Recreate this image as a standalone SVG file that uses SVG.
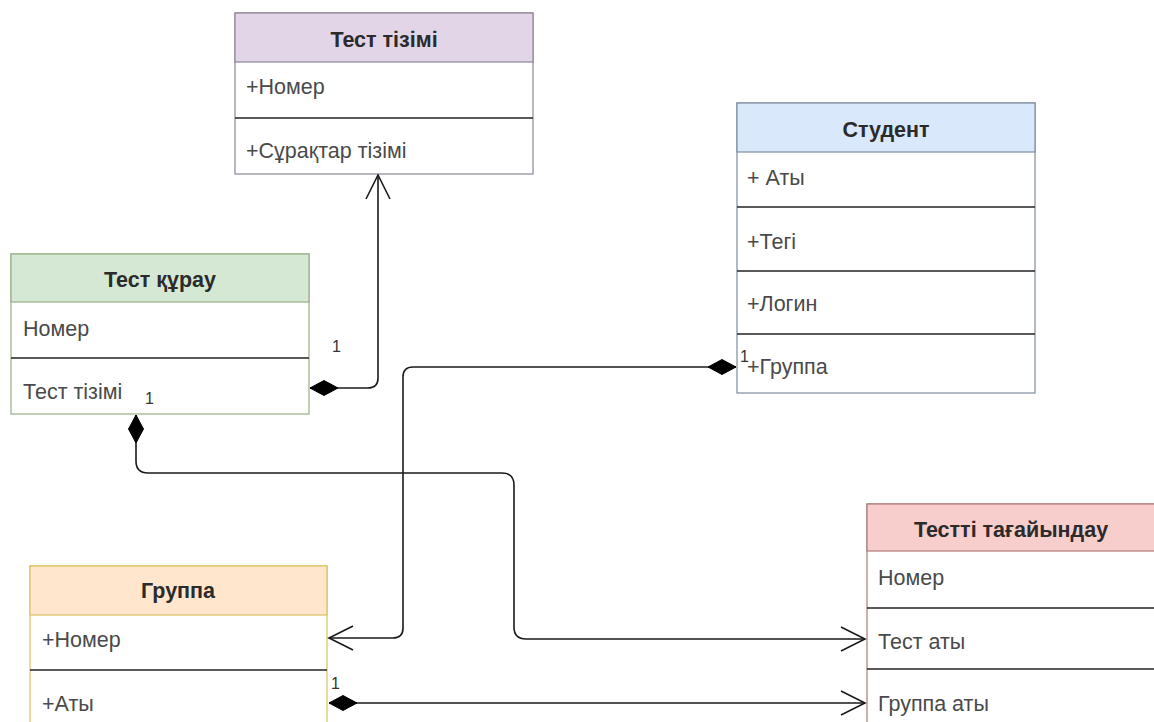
<svg xmlns="http://www.w3.org/2000/svg" width="1154" height="722" viewBox="0 0 1154 722">
  <style>
    .box { fill: #ffffff; stroke-width: 1.2; }
    .sep { stroke: #222222; stroke-width: 1.5; }
    .title { font-family: "Liberation Sans", Arial, sans-serif; font-size: 21.5px; font-weight: bold; fill: #2b2b2b; text-anchor: middle; }
    .attr { font-family: "Liberation Sans", Arial, sans-serif; font-size: 21.5px; fill: #4a4a4a; }
    .mult { font-family: "Liberation Sans", Arial, sans-serif; font-size: 16px; fill: #333333; }
    .edge { fill: none; stroke: #1a1a1a; stroke-width: 1.6; }
  </style>
  <defs>
    <marker id="diamond" markerUnits="userSpaceOnUse" markerWidth="30" markerHeight="16" refX="0" refY="0" orient="auto" overflow="visible">
      <path d="M0,0 L14,-7.5 L28,0 L14,7.5 Z" fill="#000000" stroke="#000000" stroke-width="1"/>
    </marker>
    <marker id="open" markerUnits="userSpaceOnUse" markerWidth="26" markerHeight="26" refX="0" refY="0" orient="auto" overflow="visible">
      <path d="M-24,-12 L0,0 L-24,12" fill="none" stroke="#1a1a1a" stroke-width="1.6"/>
    </marker>
  </defs>

  <rect width="1154" height="722" fill="#ffffff"/>

  <!-- Тест тізімі -->
  <g id="test-tizimi">
    <rect class="box" x="235" y="13" width="298" height="161" stroke="#8f8499"/>
    <rect x="235" y="13" width="298" height="49" fill="#e1d5e7" stroke="#8f8499" stroke-width="1.2"/>
    <line class="sep" x1="235" y1="118" x2="533" y2="118"/>
    <text class="title" x="384" y="47">Тест тізімі</text>
    <text class="attr" x="246" y="94">+Номер</text>
    <text class="attr" x="246" y="158">+Сұрақтар тізімі</text>
  </g>

  <!-- Студент -->
  <g id="student">
    <rect class="box" x="737" y="103" width="298" height="290" stroke="#7f8c9e"/>
    <rect x="737" y="103" width="298" height="49" fill="#dae8fc" stroke="#7f8c9e" stroke-width="1.2"/>
    <line class="sep" x1="737" y1="207" x2="1035" y2="207"/>
    <line class="sep" x1="737" y1="271" x2="1035" y2="271"/>
    <line class="sep" x1="737" y1="334" x2="1035" y2="334"/>
    <text class="title" x="886" y="137">Студент</text>
    <text class="attr" x="747" y="185">+ Аты</text>
    <text class="attr" x="747" y="249">+Тегі</text>
    <text class="attr" x="747" y="311">+Логин</text>
    <text class="attr" x="747" y="374">+Группа</text>
  </g>

  <!-- Тест құрау -->
  <g id="test-kurau">
    <rect class="box" x="11" y="254" width="298" height="160" stroke="#98b088"/>
    <rect x="11" y="254" width="298" height="48" fill="#d5e8d4" stroke="#98b088" stroke-width="1.2"/>
    <line class="sep" x1="11" y1="358" x2="309" y2="358"/>
    <text class="title" x="160" y="287">Тест құрау</text>
    <text class="attr" x="23" y="336">Номер</text>
    <text class="attr" x="23" y="399">Тест тізімі</text>
  </g>

  <!-- Группа -->
  <g id="gruppa">
    <rect class="box" x="30" y="566" width="297" height="170" stroke="#dcc25e"/>
    <rect x="30" y="566" width="297" height="49" fill="#ffe6cc" stroke="#dcc25e" stroke-width="1.2"/>
    <line class="sep" x1="30" y1="670" x2="327" y2="670"/>
    <text class="title" x="178" y="598">Группа</text>
    <text class="attr" x="42" y="647">+Номер</text>
    <text class="attr" x="42" y="711">+Аты</text>
  </g>

  <!-- Тестті тағайындау -->
  <g id="testti-tagaiyndau">
    <rect class="box" x="867" y="504" width="296" height="230" stroke="#b07a78"/>
    <rect x="867" y="504" width="296" height="47" fill="#f8cecc" stroke="#b07a78" stroke-width="1.2"/>
    <line class="sep" x1="867" y1="608" x2="1163" y2="608"/>
    <line class="sep" x1="867" y1="669" x2="1163" y2="669"/>
    <text class="title" x="1011" y="537">Тестті тағайындау</text>
    <text class="attr" x="878" y="585">Номер</text>
    <text class="attr" x="878" y="649">Тест аты</text>
    <text class="attr" x="878" y="711">Группа аты</text>
  </g>

  <!-- connectors -->
  <g id="connectors">
    <path class="edge" d="M310,388 H368 Q378,388 378,378 V175" marker-start="url(#diamond)" marker-end="url(#open)"/>
    <path class="edge" d="M736,367 H413 Q403,367 403,377 V628 Q403,638 393,638 H329" marker-start="url(#diamond)" marker-end="url(#open)"/>
    <path class="edge" d="M136,415 V461 Q136,473 148,473 H502 Q514,473 514,485 V627 Q514,639 526,639 H865" marker-start="url(#diamond)" marker-end="url(#open)"/>
    <path class="edge" d="M329,703 H865" marker-start="url(#diamond)" marker-end="url(#open)"/>
    <text class="mult" x="332" y="352">1</text>
    <text class="mult" x="145" y="404">1</text>
    <text class="mult" x="740" y="362">1</text>
    <text class="mult" x="331" y="689">1</text>
  </g>
</svg>
